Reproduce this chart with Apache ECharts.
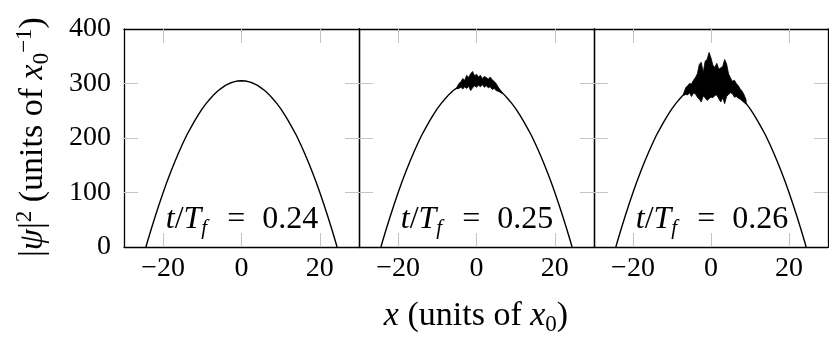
<!DOCTYPE html>
<html>
<head>
<meta charset="utf-8">
<title>psi profiles</title>
<script src="https://cdn.jsdelivr.net/npm/echarts@6/dist/echarts.min.js"></script>
<style>
  html, body { margin: 0; padding: 0; background: #fff; }
  #chart { width: 829px; height: 344px; }
</style>
</head>
<body>
<div id="chart"></div>
<script>
// values
var panelTimes = ['0.24', '0.25', '0.26'];
var xTicks = [-20, 0, 20];
var yTicks = [100, 200, 300];
var yLabels = [0, 100, 200, 300, 400];

// smooth profile |psi|^2 (same envelope in the three panels)
var xProfile = [-24.4, -24, -23, -22, -21, -20, -19, -18, -17, -16, -15, -14, -13, -12, -11, -10, -9, -8, -7, -6, -5, -4, -3, -2, -1,
  0, 1, 2, 3, 4, 5, 6, 7, 8, 9, 10, 11, 12, 13, 14, 15, 16, 17, 18, 19, 20, 21, 22, 23, 24, 24.4];
var psiProfile = [0, 10, 34, 57, 79, 100, 120, 139, 157, 174, 190, 205, 218, 231, 243, 254, 263.5, 272, 280, 286.6, 292, 297, 300.4, 303, 304.5,
  305, 304.5, 303, 300.4, 297, 292, 286.6, 280, 272, 263.5, 254, 243, 231, 218, 205, 190, 174, 157, 139, 120, 100, 79, 57, 34, 10, 0];

// noisy top at t/Tf = 0.25 (upper / lower edge of the black band)
var noiseX025 = [-5, -4.5, -4, -3.5, -3, -2.5, -2, -1.5, -1, -0.5, 0, 0.5, 1, 1.5, 2, 2.5, 3, 3.5, 4, 4.5, 5, 5.5, 6, 6.5];
var noiseHi025 = [293, 300, 303, 309, 306, 315, 311, 318, 322, 314, 317, 312, 315, 309, 313, 311, 308, 312, 307, 304, 300, 294, 289, 284];
var noiseLo025 = [290, 291, 293, 290, 294, 291, 295, 287, 292, 296, 293, 297, 294, 298, 293, 296, 292, 294, 289, 291, 287, 286, 284, 282];

// noisy top at t/Tf = 0.26
var noiseX026 = [-7, -6.5, -6, -5.5, -5, -4.5, -4, -3.5, -3, -2.5, -2, -1.5, -1, -0.5, 0, 0.5, 1, 1.5, 2, 2.5, 3, 3.5, 4, 4.5, 5, 5.5, 6, 6.5, 7, 7.5, 8, 8.5, 9];
var noiseHi026 = [282, 292, 296, 300, 299, 306, 311, 318, 335, 339, 320, 341, 344, 357, 347, 333, 330, 337, 326, 329, 331, 344, 336, 318, 310, 304, 306, 300, 296, 290, 286, 279, 270];
var noiseLo026 = [278, 280, 279, 283, 276, 282, 281, 275, 271, 266, 277, 274, 269, 272, 275, 274, 278, 279, 272, 266, 274, 263, 276, 280, 283, 281, 275, 276, 273, 271, 268, 265, 262];

var noiseSets = [null, [noiseX025, noiseHi025, noiseLo025], [noiseX026, noiseHi026, noiseLo026]];

var FONT = "'Liberation Serif', 'DejaVu Serif', serif";
var gridLeft = [124, 359, 594];
var gridWidth = [235, 235, 234];
var gridTop = 29, gridH = 218;
var frame = { show: true, onZero: false, lineStyle: { color: '#000', width: 1.3 } };
var tickStyle = { color: '#c4c4c4', width: 1 };

function fmtMinus(v) {
  return v < 0 ? '\u2212' + Math.abs(v) : String(v);
}

var grids = [], xAxes = [], yAxes = [], series = [], graphics = [];

for (var g = 0; g < 3; g++) {
  grids.push({ left: gridLeft[g], top: gridTop, width: gridWidth[g], height: gridH, outerBoundsMode: 'none' });

  // bottom & top x axes
  xAxes.push({
    gridIndex: g, type: 'value', min: -30, max: 30, position: 'bottom',
    axisLine: frame, splitLine: { show: false },
    axisTick: { inside: true, length: 14, lineStyle: tickStyle, customValues: xTicks },
    axisLabel: { customValues: xTicks, formatter: fmtMinus, fontFamily: FONT, fontSize: 28, color: '#000', margin: 8 }
  });
  xAxes.push({
    gridIndex: g, type: 'value', min: -30, max: 30, position: 'top',
    axisLine: frame, splitLine: { show: false },
    axisTick: { inside: true, length: 14, lineStyle: tickStyle, customValues: xTicks },
    axisLabel: { show: false }
  });

  // left & right y axes
  yAxes.push({
    gridIndex: g, type: 'value', min: 0, max: 400, interval: 100, position: 'left',
    axisLine: frame, splitLine: { show: false },
    axisTick: { inside: true, length: 14, lineStyle: tickStyle, customValues: yTicks },
    axisLabel: { show: g === 0, customValues: yLabels, fontFamily: FONT, fontSize: 28, color: '#000', margin: 13 }
  });
  yAxes.push({
    gridIndex: g, type: 'value', min: 0, max: 400, interval: 100, position: 'right',
    axisLine: frame, splitLine: { show: false },
    axisTick: { inside: true, length: 14, lineStyle: tickStyle, customValues: yTicks },
    axisLabel: { show: false }
  });

  var pts = [];
  for (var i = 0; i < xProfile.length; i++) pts.push([xProfile[i], psiProfile[i]]);
  series.push({
    type: 'line', xAxisIndex: g * 2, yAxisIndex: g * 2, data: pts,
    showSymbol: false, smooth: false, silent: true, z: 3,
    lineStyle: { color: '#000', width: 1.4 }
  });

  if (noiseSets[g]) {
    (function (ns) {
      series.push({
        type: 'custom', xAxisIndex: g * 2, yAxisIndex: g * 2, silent: true, z: 4,
        data: [[0, 300]],
        renderItem: function (params, api) {
          var poly = [], k;
          for (k = 0; k < ns[0].length; k++) poly.push(api.coord([ns[0][k], ns[1][k]]));
          for (k = ns[0].length - 1; k >= 0; k--) poly.push(api.coord([ns[0][k], ns[2][k]]));
          return { type: 'polygon', shape: { points: poly }, style: { fill: '#000', stroke: '#000', lineWidth: 0.8 } };
        }
      });
    })(noiseSets[g]);
  }

  // in-panel time label
  graphics.push({
    type: 'text', x: gridLeft[g] + 118, y: 220, z: 10,
    style: {
      text: '{i|t}{n|/}{i|T}{s|f}{e|=}{n|' + panelTimes[g] + '}',
      align: 'center', verticalAlign: 'middle',
      rich: {
        i: { fontFamily: FONT, fontStyle: 'italic', fontSize: 32, lineHeight: 38, fill: '#000' },
        n: { fontFamily: FONT, fontSize: 32, lineHeight: 38, fill: '#000' },
        e: { fontFamily: FONT, fontSize: 32, lineHeight: 38, fill: '#000', padding: [0, 17, 0, 20] },
        s: { fontFamily: FONT, fontStyle: 'italic', fontSize: 21, lineHeight: 22, verticalAlign: 'bottom', fill: '#000' }
      }
    }
  });
}

// axis titles
graphics.push({
  type: 'text', x: 476, y: 316,
  style: {
    text: '{i|x}{n| (units of }{i|x}{s|0}{n|)}',
    align: 'center', verticalAlign: 'middle',
    rich: {
      i: { fontFamily: FONT, fontStyle: 'italic', fontSize: 34, lineHeight: 40, fill: '#000' },
      n: { fontFamily: FONT, fontSize: 34, lineHeight: 40, fill: '#000' },
      s: { fontFamily: FONT, fontSize: 23, lineHeight: 26, verticalAlign: 'bottom', fill: '#000' }
    }
  }
});
graphics.push({
  type: 'text', x: 33, y: 137, rotation: Math.PI / 2,
  style: {
    text: '{n||}{i|\u03c8}{n||}{p|2}{n| (units of }{i|x}{s|0}{p|\u22121}{n|)}',
    align: 'center', verticalAlign: 'middle',
    rich: {
      i: { fontFamily: FONT, fontStyle: 'italic', fontSize: 34, lineHeight: 40, fill: '#000' },
      n: { fontFamily: FONT, fontSize: 34, lineHeight: 40, fill: '#000' },
      s: { fontFamily: FONT, fontSize: 23, lineHeight: 26, verticalAlign: 'bottom', fill: '#000' },
      p: { fontFamily: FONT, fontSize: 23, lineHeight: 26, verticalAlign: 'top', fill: '#000' }
    }
  }
});

var chart = echarts.init(document.getElementById('chart'));
chart.setOption({
  animation: false,
  backgroundColor: '#fff',
  grid: grids,
  xAxis: xAxes,
  yAxis: yAxes,
  series: series,
  graphic: graphics
});
</script>
</body>
</html>
